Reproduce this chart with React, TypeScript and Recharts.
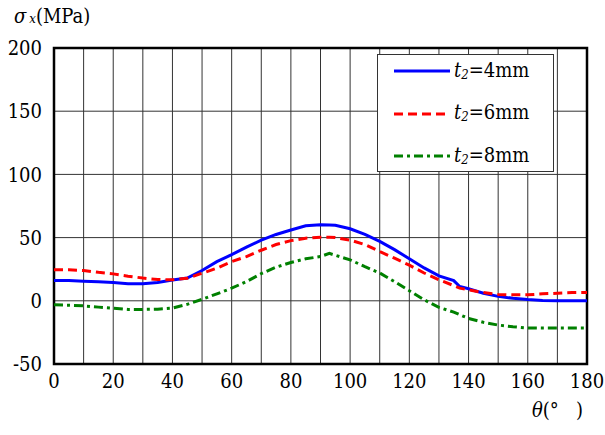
import React from 'react';
import { LineChart, Line, XAxis, YAxis, CartesianGrid, ReferenceArea } from 'recharts';

const theta = [0, 5, 10, 15, 20, 25, 30, 35, 40, 45, 50, 55, 60, 65, 70, 75, 80, 85, 90, 93, 95, 100, 105, 110, 115, 120, 125, 130, 135, 137, 140, 145, 150, 155, 160, 165, 170, 175, 180];
const t4 = [16, 16, 15.5, 15, 14.5, 13.5, 13.5, 14.5, 16.5, 18, 24, 31, 36.5, 42.5, 48, 52.5, 56, 59.3, 60.2, 60, 59.8, 57, 52.5, 47, 40.5, 33.2, 26, 19.7, 16, 11.3, 9.5, 6, 3.5, 2, 1, 0.3, 0, 0, 0];
const t6 = [24.5, 24.5, 24, 22.5, 21.3, 19.5, 18, 16.8, 16.6, 17.8, 21.8, 25.8, 31, 35, 40, 44.5, 47.6, 49.5, 50.3, 50.3, 50, 48, 44.5, 39, 33.7, 28.2, 22, 16.6, 12, 10, 8.7, 6.5, 5, 4.7, 4.7, 5.5, 6, 6.5, 6.6];
const t8 = [-3.2, -3.5, -4, -5, -5.8, -6.8, -6.8, -6.6, -5.8, -2.8, 1.2, 5.5, 10, 15.2, 21.5, 26.6, 30.3, 33.2, 35, 37.5, 36, 32.4, 27, 22, 15.2, 8, 0.8, -5.2, -9, -11, -14, -17, -19.2, -20.5, -21.5, -21.6, -21.6, -21.6, -21.6];

const xTicks = [0, 10, 20, 30, 40, 50, 60, 70, 80, 90, 100, 110, 120, 130, 140, 150, 160, 170, 180];
const yTicks = [-50, 0, 50, 100, 150, 200];

const seriesNames = ['4mm', '6mm', '8mm'];

const data = theta.map((t, i) => ({ theta: t, t4: t4[i], t6: t6[i], t8: t8[i] }));

const font = "'DejaVu Serif Condensed', 'DejaVu Serif', serif";

const legendItems = [
  { name: seriesNames[0], color: '#0000ff', dash: undefined },
  { name: seriesNames[1], color: '#ff0000', dash: '9 5' },
  { name: seriesNames[2], color: '#008000', dash: '9 4 3 4' },
];

const LegendBox = () => (
  <div
    style={{
      position: 'absolute',
      left: 377,
      top: 54,
      width: 177,
      height: 118,
      background: '#fff',
      border: '1.5px solid #333',
      fontFamily: font,
      fontSize: 20,
      color: '#000',
      boxSizing: 'border-box',
    }}
  >
    {legendItems.map((it, i) => (
      <div key={it.name} style={{ position: 'absolute', left: 0, top: 2 + i * 42.5, height: 28, display: 'flex', alignItems: 'center' }}>
        <svg width={76} height={10} style={{ marginLeft: 14 }}>
          <line x1={2} y1={5} x2={58} y2={5} stroke={it.color} strokeWidth={3} strokeDasharray={it.dash} />
        </svg>
        <span style={{ marginLeft: -14, whiteSpace: 'nowrap', lineHeight: '28px' }}>
          <i>t</i>
          <span style={{ fontSize: 13, fontStyle: 'italic', position: 'relative', top: 2 }}>2</span>={it.name}
        </span>
      </div>
    ))}
  </div>
);

const xLabel = (v: number) => (v % 20 === 0 ? String(v) : '');

export default function App() {
  return (
    <div style={{ position: 'absolute', left: 0, top: 0, width: 605, height: 435, background: '#fff', fontFamily: font }}>
      <div style={{ position: 'absolute', left: 14, top: 4, fontSize: 20, color: '#000', whiteSpace: 'nowrap' }}>
        <i>σ</i>
        <span style={{ fontSize: 13, fontStyle: 'italic', marginLeft: 3 }}>x</span>(MPa)
      </div>
      <div style={{ position: 'absolute', left: 532, top: 398, fontSize: 20, color: '#000', whiteSpace: 'nowrap' }}>
        <i>θ</i>(°&nbsp;&nbsp;&nbsp;)
      </div>
      <LineChart width={605} height={435} data={data} margin={{ top: 48, right: 18, bottom: 0, left: 0 }} style={{ fontFamily: font }}>
        <CartesianGrid stroke="#333" strokeWidth={1} />
        <XAxis
          dataKey="theta"
          type="number"
          domain={[0, 180]}
          ticks={xTicks}
          tickFormatter={xLabel}
          interval={0}
          height={71}
          tickLine={false}
          axisLine={false}
          tickMargin={4}
          tick={{ fontSize: 20, fill: '#000', fontFamily: font }}
        />
        <YAxis
          type="number"
          domain={[-50, 200]}
          ticks={yTicks}
          width={54}
          tickLine={false}
          axisLine={false}
          tickMargin={6}
          tick={{ fontSize: 20, fill: '#000', fontFamily: font }}
        />
        <ReferenceArea x1={0} x2={180} y1={-50} y2={200} fill="none" stroke="#000" strokeWidth={2.5} ifOverflow="visible" />
        <Line dataKey="t4" name={seriesNames[0]} stroke="#0000ff" strokeWidth={3} dot={false} isAnimationActive={false} type="linear" />
        <Line dataKey="t6" name={seriesNames[1]} stroke="#ff0000" strokeWidth={3} strokeDasharray="9 5" dot={false} isAnimationActive={false} type="linear" />
        <Line dataKey="t8" name={seriesNames[2]} stroke="#008000" strokeWidth={3} strokeDasharray="9 4 3 4" dot={false} isAnimationActive={false} type="linear" />
      </LineChart>
      <LegendBox />
    </div>
  );
}
